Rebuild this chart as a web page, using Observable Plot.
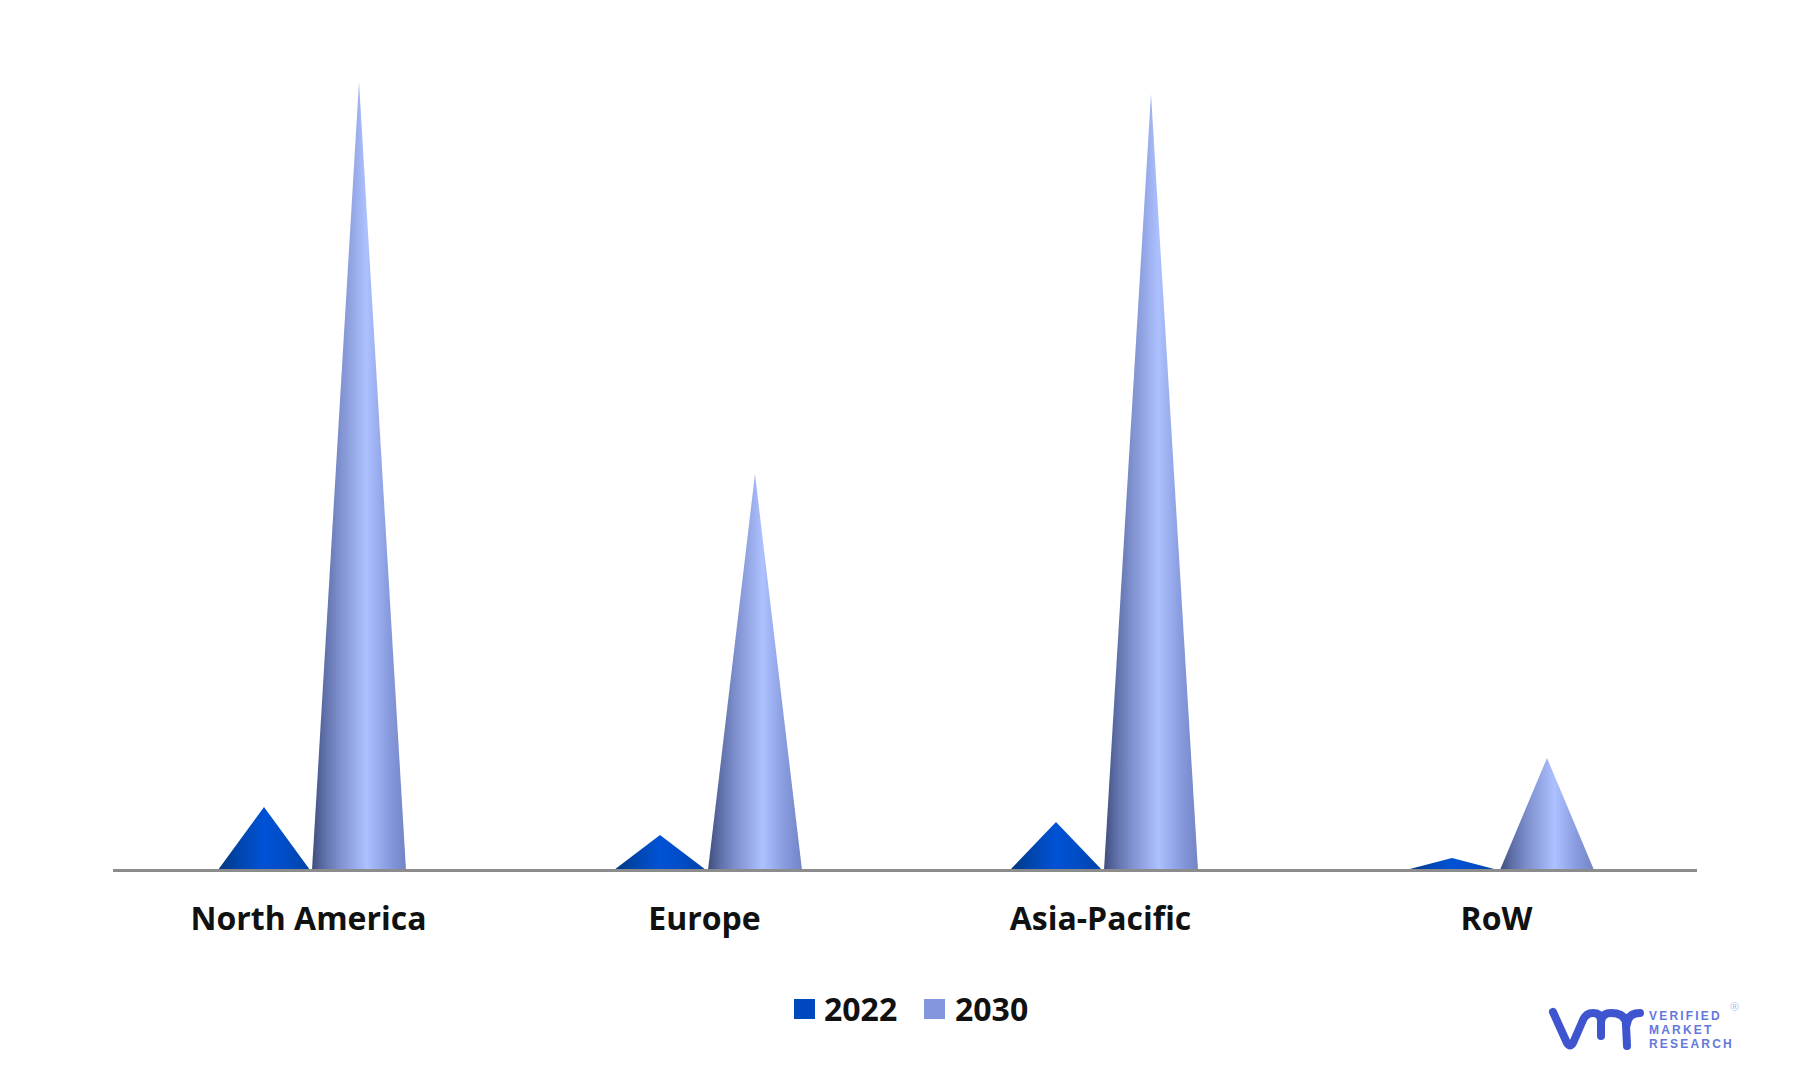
<!DOCTYPE html>
<html>
<head>
<meta charset="utf-8">
<script src="https://cdn.jsdelivr.net/npm/d3@7"></script>
<script src="https://cdn.jsdelivr.net/npm/@observablehq/plot@0.6"></script>
<style>
html,body{margin:0;padding:0;background:#fff}
#root{position:relative;width:1800px;height:1076px;overflow:hidden;font-family:"Open Sans",sans-serif}
.sw{position:absolute;width:21px;height:20px;top:999px}
.lg{position:absolute;top:987px;font-size:32px;font-weight:700;line-height:44px;color:#111}
#logo{position:absolute;left:1540px;top:1000px}
</style>
</head>
<body>
<div id="root"></div>
<script>
const regions = ["North America", "Europe", "Asia-Pacific", "RoW"];
const years = ["2022", "2030"];
const values2022 = [63, 35, 48, 12];
const values2030 = [788, 396, 776, 112];
const colors = ["#0048bd", "#8497de"];

const rows = regions.flatMap((region, i) => [
  {region, year: years[0], value: values2022[i]},
  {region, year: years[1], value: values2030[i]}
]);

// Draws each bar of the Plot mark as a cone outline, keeping Plot's scaled geometry.
function cone(index, scales, channels, dimensions, context, next) {
  const g = next(index, scales, channels, dimensions, context);
  d3.select(g).selectAll("rect").each(function () {
    const r = d3.select(this);
    const x = +r.attr("x"), y = +r.attr("y"), w = +r.attr("width"), h = +r.attr("height");
    const p = document.createElementNS("http://www.w3.org/2000/svg", "path");
    p.setAttribute("d", `M${x},${y + h}L${x + w / 2},${y}L${x + w},${y + h}Z`);
    p.setAttribute("fill", r.attr("fill"));
    this.replaceWith(p);
  });
  return g;
}

function gradients() {
  const ns = "http://www.w3.org/2000/svg";
  const defs = document.createElementNS(ns, "defs");
  const spec = {
    g2022: [[0, "#00377f"], [0.2, "#0044a8"], [0.5, "#0052d6"], [0.75, "#004cc4"], [1, "#0042a6"]],
    g2030: [[0, "#3f4d7c"], [0.12, "#5c6da6"], [0.3, "#7f91cf"], [0.58, "#adc0ff"], [0.8, "#8a9de0"], [1, "#7284c6"]]
  };
  for (const id in spec) {
    const lg = document.createElementNS(ns, "linearGradient");
    lg.setAttribute("id", id);
    for (const [o, c] of spec[id]) {
      const s = document.createElementNS(ns, "stop");
      s.setAttribute("offset", o);
      s.setAttribute("stop-color", c);
      lg.appendChild(s);
    }
    defs.appendChild(lg);
  }
  return defs;
}

const chart = Plot.plot({
  width: 1800,
  height: 1076,
  marginLeft: 112,
  marginRight: 103,
  marginTop: 70,
  marginBottom: 206,
  style: {background: "#fff", fontFamily: "'Open Sans',sans-serif"},
  fx: {domain: regions, padding: 0, label: null},
  x: {domain: years, paddingInner: 0.02, paddingOuter: 1.105, axis: null},
  y: {domain: [0, 800], axis: null},
  color: {domain: years, range: ["url(#g2022)", "url(#g2030)"]},
  marks: [
    gradients,
    Plot.barY(rows, {filter: d => d.year === years[0], fx: "region", x: "year", y: "value", fill: "year", render: cone}),
    Plot.barY(rows, {filter: d => d.year === years[1], fx: "region", x: "year", y: "value", fill: "year", insetRight: -2, render: cone}),
    Plot.ruleY([0], {stroke: "#8c8c8c", strokeWidth: 3}),
    Plot.axisFx({anchor: "bottom", tickSize: 0, tickPadding: 37, dx: -3, fontSize: 32, fontWeight: 700, fill: "#111", label: null})
  ]
});

const root = document.getElementById("root");
root.appendChild(chart);

years.forEach((y, i) => {
  const sw = document.createElement("div");
  sw.className = "sw";
  sw.style.left = [794, 924][i] + "px";
  sw.style.background = colors[i];
  root.appendChild(sw);
  const t = document.createElement("div");
  t.className = "lg";
  t.style.left = [824, 955][i] + "px";
  t.textContent = y;
  root.appendChild(t);
});

const logo = document.createElement("div");
logo.id = "logo";
logo.innerHTML = `<svg width="210" height="60" viewBox="0 0 210 60">
<path d="M13 12 L27 43 Q30 48 33 43 L43 20 Q46 13 53 13 Q61 13 61 21 L61 36 M61 22 Q62 13 71 13 Q86 13 86 25 L87 46 M87 24 Q88 13 100 13" fill="none" stroke="#3f55d0" stroke-width="8" stroke-linejoin="round" stroke-linecap="round"/>
<g font-family="'Liberation Sans',sans-serif" font-weight="700" font-size="12" fill="#6478dc" letter-spacing="2.2">
<text x="109" y="20">VERIFIED</text><text x="109" y="34">MARKET</text><text x="109" y="48">RESEARCH</text>
</g>
<text x="190" y="11" font-family="'Open Sans',sans-serif" font-size="11" fill="#b4bdec">®</text>
</svg>`;
root.appendChild(logo);
</script>
</body>
</html>
